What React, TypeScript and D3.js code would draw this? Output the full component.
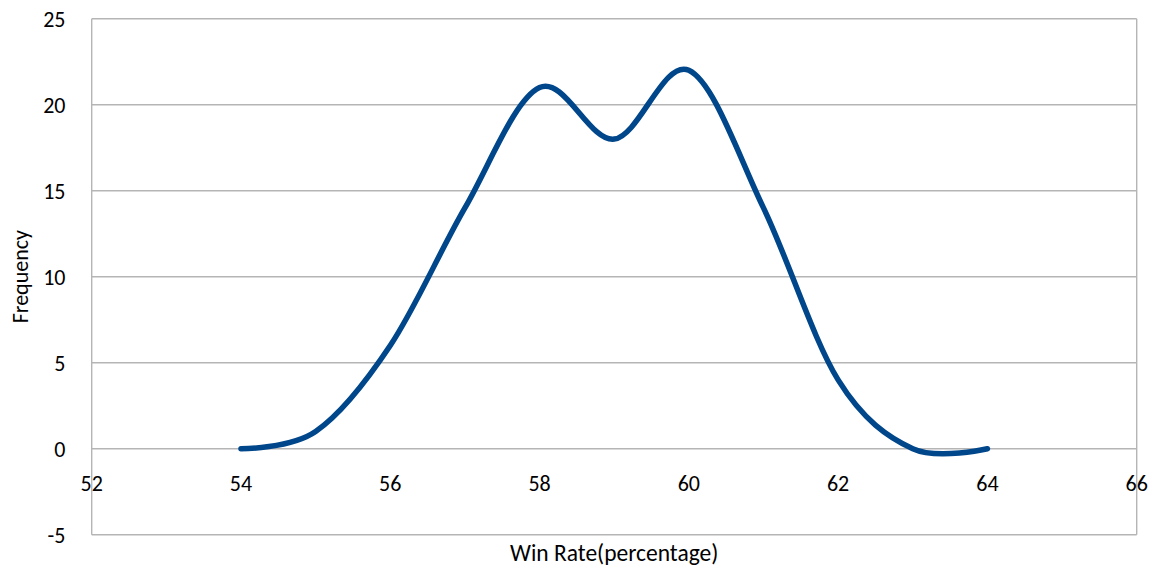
import React from "react";
import * as d3 from "d3";

// Win-rate distribution: frequency of each integer win-rate percentage
const winRates: number[] = [54, 55, 56, 57, 58, 59, 60, 61, 62, 63, 64];
const frequencies: number[] = [0, 1, 6, 14, 21, 18, 22, 14, 4, 0, 0];

const xTicks: number[] = [52, 54, 56, 58, 60, 62, 64, 66];
const yTicks: number[] = [-5, 0, 5, 10, 15, 20, 25];

const xTitle = "Win Rate(percentage)";
const yTitle = "Frequency";

const WIDTH = 1161;
const HEIGHT = 573;
const FONT = "Carlito, Lato, 'Open Sans', sans-serif";

export default function App() {
  const left = 91.7;
  const right = 1136.7;
  const top = 18.7;
  const bottom = 534.7;

  const x = d3.scaleLinear().domain([52, 66]).range([left, right]);
  const y = d3.scaleLinear().domain([-5, 25]).range([bottom, top]);

  const points: [number, number][] = winRates.map((w, i) => [w, frequencies[i]]);
  const line = d3
    .line<[number, number]>()
    .x((d) => x(d[0]))
    .y((d) => y(d[1]))
    .curve(d3.curveCardinal.tension(0));

  const grid = "#b5b5b5";

  return (
    <svg
      width={WIDTH}
      height={HEIGHT}
      style={{ position: "fixed", left: 0, top: 0, background: "#fff" }}
      fontFamily={FONT}
    >
      {/* horizontal gridlines */}
      {yTicks.map((t) => (
        <line key={`g${t}`} x1={left} x2={right} y1={y(t)} y2={y(t)} stroke={grid} strokeWidth={1.4} />
      ))}
      {/* vertical value axis and right plot edge */}
      <line x1={x(52)} x2={x(52)} y1={top} y2={bottom} stroke={grid} strokeWidth={1.4} />
      <line x1={x(66)} x2={x(66)} y1={top} y2={bottom} stroke={grid} strokeWidth={1.4} />

      {/* y tick labels */}
      {yTicks.map((t) => (
        <text
          key={`yl${t}`}
          x={65.5}
          y={y(t)}
          dy="0.36em"
          textAnchor="end"
          fontSize={22}
          fill="#000"
        >
          {t}
        </text>
      ))}

      {/* x tick labels, placed under the zero line */}
      {xTicks.map((t) => (
        <text
          key={`xl${t}`}
          x={x(t)}
          y={y(0) + 42.5}
          textAnchor="middle"
          fontSize={22}
          fill="#000"
        >
          {t}
        </text>
      ))}

      {/* data curve */}
      <path
        d={line(points) ?? ""}
        fill="none"
        stroke="#00468a"
        strokeWidth={5.5}
        strokeLinecap="round"
        strokeLinejoin="round"
      />

      {/* axis titles */}
      <text x={(left + right) / 2} y={561} textAnchor="middle" fontSize={23.5} fill="#000">
        {xTitle}
      </text>
      <text
        transform={`translate(28, ${(top + bottom) / 2}) rotate(-90)`}
        textAnchor="middle"
        fontSize={22}
        fill="#000"
      >
        {yTitle}
      </text>
    </svg>
  );
}
